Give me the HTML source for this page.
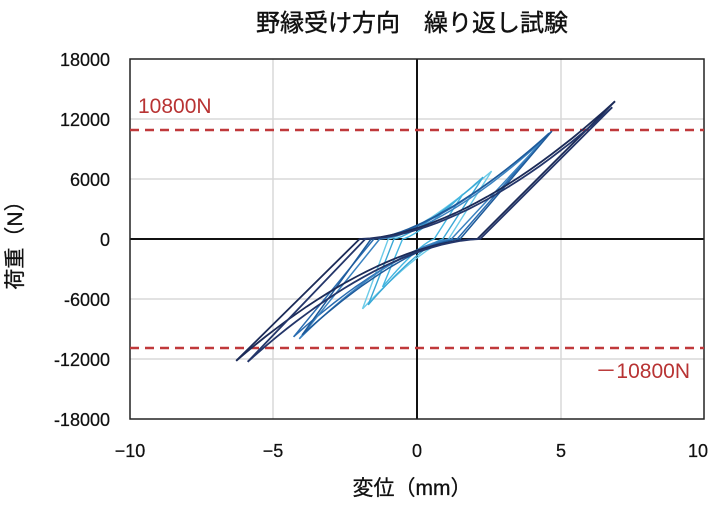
<!DOCTYPE html>
<html><head><meta charset="utf-8"><style>
body{margin:0;background:#fff;width:720px;height:500px;overflow:hidden}
text{font-family:"Liberation Sans","Noto Sans CJK JP",sans-serif}
</style></head><body>
<svg id="s" width="720" height="500" xmlns="http://www.w3.org/2000/svg">
<text x="412" y="31" font-size="24" text-anchor="middle" fill="#111" stroke="#111" stroke-width="0.4">野縁受け方向　繰り返し試験</text>
<g stroke="#d8d8d8" stroke-width="1.5">
<line x1="273" y1="59" x2="273" y2="419"/><line x1="561" y1="59" x2="561" y2="419"/>
<line x1="130" y1="119" x2="704" y2="119"/><line x1="130" y1="179" x2="704" y2="179"/>
<line x1="130" y1="299" x2="704" y2="299"/><line x1="130" y1="359" x2="704" y2="359"/>
</g>
<g stroke="#111" stroke-width="2">
<line x1="417" y1="59" x2="417" y2="419"/><line x1="130" y1="239" x2="704" y2="239"/>
</g>
<rect x="130" y="59" width="574" height="360" fill="none" stroke="#222" stroke-width="1.5"/>
<g stroke="#c0393b" stroke-width="2.5" stroke-dasharray="9,6">
<line x1="130" y1="130" x2="704" y2="130"/><line x1="130" y1="348" x2="704" y2="348"/>
</g>
<text x="138" y="113" font-size="21" fill="#b83333">10800N</text>
<text x="690" y="378" font-size="21" fill="#b83333" text-anchor="end">－10800N</text>
<g id="curves" fill="none" stroke-width="1.6" stroke-linejoin="round"></g>
<g font-size="18" fill="#111" text-anchor="end" stroke="#111" stroke-width="0.25">
<text x="110" y="66">18000</text><text x="110" y="126">12000</text><text x="110" y="186">6000</text>
<text x="110" y="246">0</text><text x="110" y="306">-6000</text><text x="110" y="366">-12000</text><text x="110" y="426">-18000</text>
</g>
<g font-size="18" fill="#111" text-anchor="middle" stroke="#111" stroke-width="0.25">
<text x="130" y="457">−10</text><text x="273" y="457">−5</text><text x="417" y="457">0</text><text x="561" y="457">5</text><text x="698" y="457">10</text>
</g>
<text x="412" y="495" font-size="21" text-anchor="middle" fill="#111" stroke="#111" stroke-width="0.3">変位（mm）</text>
<text transform="translate(22,240) rotate(-90)" font-size="21" text-anchor="middle" fill="#111" stroke="#111" stroke-width="0.3">荷重（N）</text>
</svg>
<script>
var g=document.getElementById('curves');
function X(x){return 417+28.7*x}function Y(f){return 239-0.00998*f}
function pl(pts,c,w){var p=document.createElementNS('http://www.w3.org/2000/svg','polyline');
p.setAttribute('points',pts.map(function(a){return X(a[0]).toFixed(1)+','+Y(a[1]).toFixed(1)}).join(' '));
p.setAttribute('stroke',c);if(w)p.setAttribute('stroke-width',w);g.appendChild(p);}
function loop(xp,fp,xn,fn,z1,z2,c,w,p){p=p||1.7;
var a=[[xn,fn]],i,t;for(i=0;i<=24;i++){t=i/24;a.push([z1+(xp-z1)*t,fp*Math.pow(t,p)]);}pl(a,c,w);
var b=[[xp,fp]];for(i=0;i<=24;i++){t=i/24;b.push([z2+(xn-z2)*t,fn*Math.pow(t,p)]);}pl(b,c,w);}
loop(2.6,6800,-1.9,-7000,-1.0,1.1,'#6ccbe8',1.4,1.3);
loop(2.3,6200,-1.7,-6600,-0.8,0.9,'#3aa8d6',1.4,1.3);
loop(1.6,4500,-1.2,-4800,-0.5,0.6,'#44b6e0',1.4,1.3);
loop(4.6,10600,-4.3,-9800,-1.5,1.4,'#2a6cb0',1.5,1.5);
loop(4.5,10200,-4.1,-10000,-1.3,1.2,'#3a82c0',1.5,1.5);
loop(4.7,10800,-4.0,-9600,-1.6,1.5,'#1e5a9a',1.5,1.5);
loop(6.9,13800,-6.3,-12200,-2.0,2.1,'#1c2b58',1.8,1.7);
loop(6.8,13200,-5.9,-12300,-1.8,2.2,'#24366a',1.8,1.7);
</script>
</body></html>
